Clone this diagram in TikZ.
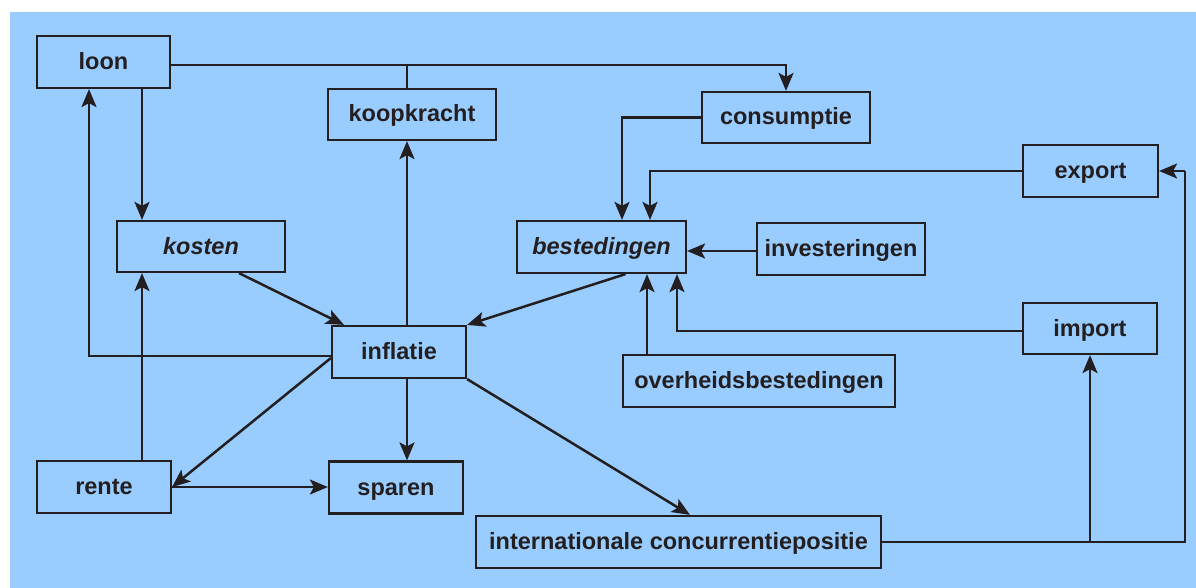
\documentclass[tikz,border=0pt]{standalone}
\usepackage{fontspec}
\setmainfont{Liberation Sans}
\usetikzlibrary{arrows.meta}
\definecolor{bgblue}{HTML}{99CCFF}
\definecolor{ink}{HTML}{231F20}
\tikzset{
  box/.style={draw=ink, line width=2.2pt, inner sep=0pt, anchor=center,
    text=ink, text height=17pt, text depth=2pt,
    font=\fontsize{23.5}{28}\selectfont\bfseries},
  ln/.style={draw=ink, line width=2.5pt},
  arr/.style={ln, -{Stealth[length=18pt,width=15pt,inset=4pt]}}
}
\begin{document}
\begin{tikzpicture}[x=1pt,y=-1pt]
\useasboundingbox (0,0) rectangle (1196,588);
\fill[bgblue] (10,12) rectangle (1196,588);

\node[box, minimum width=133pt, minimum height=52pt] (loon) at (103.5,62) {loon};
\node[box, minimum width=168pt, minimum height=51pt] (koopkracht) at (412,114.5) {koopkracht};
\node[box, minimum width=168pt, minimum height=51pt] (consumptie) at (786,117.5) {consumptie};
\node[box, minimum width=135pt, minimum height=52pt] (export) at (1090.5,171) {export};
\node[box, minimum width=168pt, minimum height=51pt] (kosten) at (201,246.5) {\itshape kosten};
\node[box, minimum width=169pt, minimum height=52pt] (bestedingen) at (601.5,247) {\itshape bestedingen};
\node[box, minimum width=168pt, minimum height=52pt] (investeringen) at (841,249) {investeringen};
\node[box, minimum width=134pt, minimum height=51pt] (import) at (1090,328.5) {import};
\node[box, minimum width=134pt, minimum height=52pt] (inflatie) at (399,352) {inflatie};
\node[box, minimum width=272pt, minimum height=52pt] (overheid) at (759,381) {overheidsbestedingen};
\node[box, minimum width=134pt, minimum height=52pt] (rente) at (104,487) {rente};
\node[box, minimum width=134pt, minimum height=52pt] (sparen) at (396,487.5) {sparen};
\node[box, minimum width=405pt, minimum height=52pt] (intconc) at (678.5,542) {internationale concurrentiepositie};

% loon connections
\draw[arr] ([yshift=-3pt]loon.east) -| (consumptie.north);
\draw[ln] ([xshift=-5pt]koopkracht.north) -- ++(0,-24);
\draw[arr] ([xshift=38.5pt]loon.south) -- ([xshift=-59pt]kosten.north);
\draw[arr] ([yshift=-4pt]inflatie.west) -| ([xshift=-14.5pt]loon.south);

% into inflatie
\draw[arr] ([xshift=38pt]kosten.south) -- ([xshift=-55pt]inflatie.north);
\draw[arr] ([xshift=24pt]bestedingen.south) -- (inflatie.north east);

% out of inflatie
\draw[arr] ([xshift=8pt]inflatie.north) -- ([xshift=-5pt]koopkracht.south);
\draw[arr] ([yshift=-6pt]inflatie.west) -- (rente.east);
\draw[arr] ([xshift=8pt]inflatie.south) -- ([xshift=11pt]sparen.north);
\draw[arr] (inflatie.south east) -- ([xshift=11.5pt]intconc.north);

% rente
\draw[arr] ([xshift=38pt]rente.north) -- ([xshift=-59pt]kosten.south);
\draw[arr] (rente.east) -- (rente.east -| sparen.west);

% into bestedingen
\draw[arr] (consumptie.west) -| ([xshift=20.5pt]bestedingen.north);
\draw[arr] (export.west) -| ([xshift=48.5pt]bestedingen.north);
\draw[arr] ([yshift=-2pt]investeringen.west) -- ([yshift=-4pt]bestedingen.east);
\draw[arr] ([xshift=-112pt]overheid.north) -- ([xshift=45.5pt]bestedingen.south);
\draw[arr] ([yshift=-2.5pt]import.west) -| ([xshift=75.5pt]bestedingen.south);

% internationale concurrentiepositie
\draw[ln] (intconc.east) -| ([xshift=26pt]export.east);
\draw[arr] ([xshift=26pt]export.east) -- (export.east);
\draw[arr] (intconc.east -| import.south) -- (import.south);
\end{tikzpicture}
\end{document}
